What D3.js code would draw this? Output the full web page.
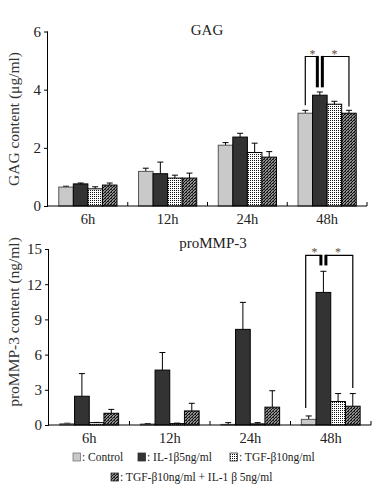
<!DOCTYPE html>
<html><head><meta charset="utf-8">
<script src="https://cdn.jsdelivr.net/npm/d3@7"></script>
<style>
html,body{margin:0;padding:0;background:#fff;}
svg{display:block;font-family:"Liberation Serif","Times New Roman",serif;}
</style></head>
<body><svg id="c" width="375" height="492"></svg>
<script>
const categories = ["6h","12h","24h","48h"];
const seriesNames = ["Control","IL-1β5ng/ml","TGF-β10ng/ml","TGF-β10ng/ml + IL-1 β 5ng/ml"];
// GAG (μg/ml) mean and upper SD per series, per category
const gagControl = [0.65,1.19,2.09,3.19];
const gagIL1 = [0.76,1.11,2.37,3.81];
const gagTGF = [0.59,0.96,1.84,3.50];
const gagCombo = [0.72,0.96,1.68,3.19];
const gagControlErr = [0.03,0.11,0.09,0.10];
const gagIL1Err = [0.03,0.40,0.13,0.11];
const gagTGFErr = [0.07,0.10,0.32,0.10];
const gagComboErr = [0.07,0.17,0.19,0.10];
// proMMP-3 (ng/ml)
const mmpControl = [0.10,0.08,0.05,0.48];
const mmpIL1 = [2.45,4.68,8.15,11.30];
const mmpTGF = [0.20,0.12,0.10,2.00];
const mmpCombo = [1.00,1.20,1.52,1.60];
const mmpControlErr = [0.05,0.04,0.15,0.29];
const mmpIL1Err = [1.93,1.50,2.30,1.80];
const mmpTGFErr = [0.02,0.04,0.10,0.68];
const mmpComboErr = [0.33,0.65,1.40,1.08];
const gagTicks = [0,2,4,6];
const mmpTicks = [0,3,6,9,12,15];
// significance brackets (y levels in data units): [top, innerLegEnd, leftLegEnd, rightLegEnd]
const gagSig = [5.14,4.08,3.46,3.42];
const mmpSig = [14.45,13.6,1.45,3.15];

const svg = d3.select("#c");
const defs = svg.append("defs");
const p1 = defs.append("pattern").attr("id","dots").attr("patternUnits","userSpaceOnUse").attr("width",2).attr("height",2);
p1.append("rect").attr("width",2).attr("height",2).attr("fill","#fff");
p1.append("rect").attr("width",1).attr("height",1).attr("fill","#111");
const p2 = defs.append("pattern").attr("id","hatch").attr("patternUnits","userSpaceOnUse").attr("width",3).attr("height",3);
p2.append("rect").attr("width",3).attr("height",3).attr("fill","#fff");
p2.append("path").attr("d","M-1,1 L1,-1 M0,3 L3,0 M2,4 L4,2").attr("stroke","#111").attr("stroke-width",1.4);
p2.append("rect").attr("x",0).attr("y",0).attr("width",1).attr("height",1).attr("fill","#333");
const fills = ["#c9c9c9","#333333","url(#dots)","url(#hatch)"];
const strokes = ["#555","#000","#000","#000"];

function drawChart(o){
  const g = svg.append("g");
  const x = d3.scaleBand().domain(categories).range([o.x0,o.x1]).paddingInner(0.27).paddingOuter(0.135);
  const xs = d3.scaleBand().domain(d3.range(4)).range([0,x.bandwidth()]);
  const y = d3.scaleLinear().domain([0,o.max]).range([o.yb,o.yt]);
  const data = [];
  categories.forEach((c,i)=>o.series.forEach((s,j)=>data.push({c,j,v:s[i],e:o.errs[j][i]})));
  // error bars
  g.selectAll(".eb").data(data).enter().append("path")
    .attr("d",d=>{const cx=x(d.c)+xs(d.j)+xs.bandwidth()/2; const t=y(d.v+d.e);
      return `M${cx},${y(d.v)}V${t}M${cx-3},${t}H${cx+3}`;})
    .attr("stroke","#000").attr("stroke-width",1).attr("fill","none");
  g.selectAll(".bar").data(data).enter().append("rect")
    .attr("x",d=>x(d.c)+xs(d.j)).attr("width",xs.bandwidth())
    .attr("y",d=>y(d.v)).attr("height",d=>y(0)-y(d.v))
    .attr("fill",d=>fills[d.j]).attr("stroke",d=>strokes[d.j]).attr("stroke-width",1);
  // axes
  const ya = g.append("g").attr("transform",`translate(${o.x0},0)`)
    .call(d3.axisLeft(y).tickValues(o.ticks).tickSize(4).tickPadding(3).tickFormat(d3.format("d")));
  ya.select(".domain").attr("d",`M-0.5,${o.yt}V${o.yb}`);
  ya.selectAll("text").attr("font-size",15).attr("font-family","Liberation Serif").attr("fill","#222");
  g.append("line").attr("x1",o.x0).attr("x2",o.x1).attr("y1",o.yb).attr("y2",o.yb).attr("stroke","#000");
  categories.forEach((c,i)=>{
    const bx = x(c)+x.bandwidth()+x.step()*0.135;
    g.append("line").attr("x1",bx).attr("x2",bx).attr("y1",o.yb).attr("y2",o.yb-4).attr("stroke","#000");
  });
  g.selectAll(".cl").data(categories).enter().append("text")
    .attr("x",d=>x(d)+x.bandwidth()/2).attr("y",o.yb+18).attr("text-anchor","middle")
    .attr("font-size",14.5).attr("fill","#222").text(d=>d);
  g.append("text").attr("x",o.titleX).attr("y",o.titleY).attr("text-anchor","middle")
    .attr("font-size",15).attr("fill","#222").text(o.title);
  g.append("text").attr("transform",`translate(${o.labX},${o.labY}) rotate(-90)`)
    .attr("text-anchor","middle").attr("font-size",o.labSize).attr("fill","#333").text(o.ylabel);
  // significance brackets on 48h
  const c = "48h";
  const cx = j=>x(c)+xs(j)+xs.bandwidth()/2;
  const s = o.sig;
  const lx = cx(0)+o.lOff, mx = cx(1), rx = cx(3);
  g.append("path").attr("d",`M${lx},${y(s[2])}V${y(s[0])}H${mx-2}`).attr("stroke","#000").attr("fill","none").attr("stroke-width",1.2);
  g.append("path").attr("d",`M${mx+2},${y(s[0])}H${rx}V${y(s[3])}`).attr("stroke","#000").attr("fill","none").attr("stroke-width",1.2);
  g.append("line").attr("x1",mx-2.5).attr("x2",mx-2.5).attr("y1",y(s[0])-0.6).attr("y2",y(s[1])).attr("stroke","#000").attr("stroke-width",3);
  g.append("line").attr("x1",mx+2.5).attr("x2",mx+2.5).attr("y1",y(s[0])-0.6).attr("y2",y(s[1])).attr("stroke","#000").attr("stroke-width",3);
  [(lx+mx)/2,(mx+rx)/2].forEach(sx=>g.append("text").attr("x",sx).attr("y",y(s[0])+1).attr("text-anchor","middle")
    .attr("font-size",12).attr("fill","#5a4a3a").text("*"));
}

drawChart({x0:48,x1:367,yt:31.5,yb:206,max:6,ticks:gagTicks,
  series:[gagControl,gagIL1,gagTGF,gagCombo],errs:[gagControlErr,gagIL1Err,gagTGFErr,gagComboErr],
  title:"GAG",titleX:207,titleY:35,ylabel:"GAG content (μg/ml)",labX:19,labY:119,labSize:15.5,sig:gagSig,lOff:0});
drawChart({x0:49,x1:371,yt:249,yb:425,max:15,ticks:mmpTicks,
  series:[mmpControl,mmpIL1,mmpTGF,mmpCombo],errs:[mmpControlErr,mmpIL1Err,mmpTGFErr,mmpComboErr],
  title:"proMMP-3",titleX:213,titleY:248,ylabel:"proMMP-3 content (ng/ml)",labX:19,labY:322,labSize:15.5,sig:mmpSig,lOff:-3});

// legend
const leg = svg.append("g").attr("font-size",11.5).attr("fill","#222");
const legPos = [[73,457],[138,457],[230,457],[111,477]];
seriesNames.forEach((n,j)=>{
  const [lx,ly] = legPos[j];
  leg.append("rect").attr("x",lx).attr("y",ly-4).attr("width",7.5).attr("height",8)
    .attr("fill",fills[j]).attr("stroke",j===0?"#777":"#333").attr("stroke-width",0.8);
  leg.append("text").attr("x",lx+9).attr("y",ly+4).text(": "+n);
});
</script></body></html>
